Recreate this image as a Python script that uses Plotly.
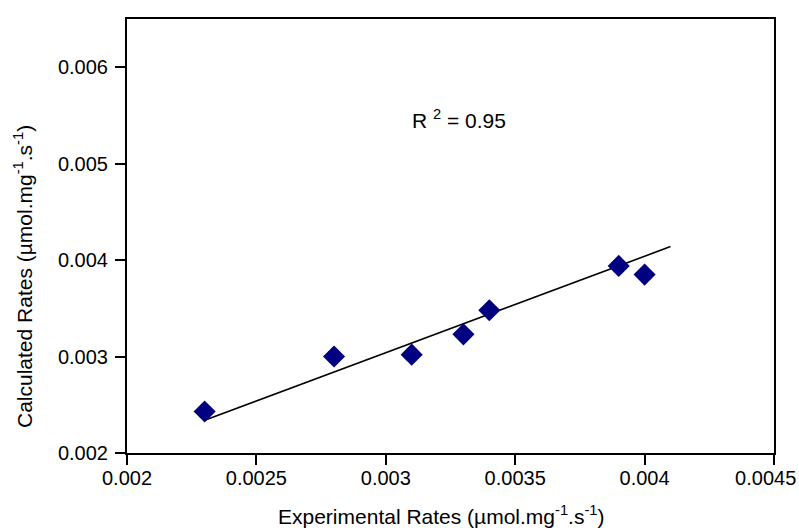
import plotly.graph_objects as go

exp_rates = [0.0023, 0.0028, 0.0031, 0.0033, 0.0034, 0.0039, 0.0040]
calc_rates = [0.00243, 0.00300, 0.00302, 0.00323, 0.00348, 0.00394, 0.00385]
line_x = [0.0023, 0.0041]
line_y = [0.00234, 0.00414]
x_ticks = [0.002, 0.0025, 0.003, 0.0035, 0.004, 0.0045]
x_tick_labels = ["0.002", "0.0025", "0.003", "0.0035", "0.004", "0.0045\u00a0\u00a0\u00a0"]
y_ticks = [0.002, 0.003, 0.004, 0.005, 0.006]
y_tick_labels = ["0.002", "0.003", "0.004", "0.005", "0.006"]

FONT = "Liberation Sans, Arial, sans-serif"

fig = go.Figure()
fig.add_trace(go.Scatter(x=line_x, y=line_y, mode="lines",
                         line=dict(color="black", width=1.6), showlegend=False))
fig.add_trace(go.Scatter(x=exp_rates, y=calc_rates, mode="markers",
                         marker=dict(symbol="diamond", size=17, color="#000080",
                                     line=dict(width=0)), showlegend=False))

axis_common = dict(showgrid=False, zeroline=False, showline=True, linecolor="black",
                   linewidth=2, mirror=True, ticks="outside", ticklen=10, tickwidth=2,
                   tickcolor="black", ticklabeloverflow="allow", automargin=False,
                   tickfont=dict(family=FONT, size=20, color="black"))

fig.update_xaxes(range=[0.002, 0.0045], tickvals=x_ticks, ticktext=x_tick_labels,
                 ticklabelstandoff=-4, **axis_common)
fig.update_yaxes(range=[0.002, 0.0065], tickvals=y_ticks, ticktext=y_tick_labels,
                 ticklabelstandoff=3, **axis_common)

fig.add_annotation(x=0.003283, y=0.005468, xref="x", yref="y", showarrow=False,
                   xanchor="center", yanchor="middle",
                   text="R <sup>2</sup> = 0.95", font=dict(family=FONT, size=21, color="black"))
fig.add_annotation(x=441, y=515, xref="paper", yref="paper", showarrow=False,
                   xanchor="center", yanchor="middle",
                   text="Experimental Rates (µmol.mg<sup>-1</sup>.s<sup>-1</sup>)",
                   font=dict(family=FONT, size=21, color="black"))
fig.add_annotation(x=23, y=277, xref="paper", yref="paper", showarrow=False, textangle=-90,
                   xanchor="center", yanchor="middle",
                   text="Calculated Rates (µmol.mg<sup>-1</sup>.s<sup>-1</sup>)",
                   font=dict(family=FONT, size=21, color="black"))

# convert pixel positions of titles to paper coords
L, R, T, B = 127, 25, 19, 75
W, H = 799, 528
pw, ph = W - L - R, H - T - B
for ann in fig.layout.annotations[1:]:
    ann.x = (ann.x - L) / pw
    ann.y = (H - B - ann.y) / ph

fig.update_layout(width=W, height=H, margin=dict(l=L, r=R, t=T, b=B, autoexpand=False),
                  plot_bgcolor="white", paper_bgcolor="white",
                  font=dict(family=FONT, color="black"))
fig.write_html("out.html")
